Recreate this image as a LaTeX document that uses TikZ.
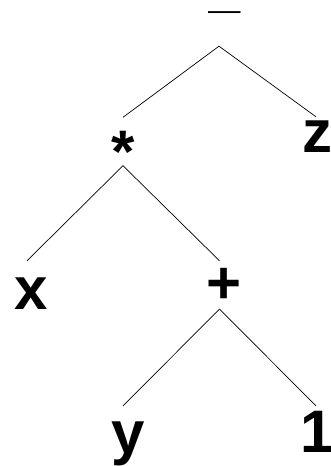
\documentclass[tikz,border=0pt]{standalone}
\usepackage{fontspec}
\newfontfamily\lab{Liberation Sans}
\tikzset{
  tn/.style={inner sep=0pt, text height=0pt, text depth=0pt, minimum height=48pt,
    font=\lab\bfseries\fontsize{60}{60}\selectfont},
  edge/.style={line width=0.7pt}
}
\begin{document}
\begin{tikzpicture}[x=1pt,y=1pt]
\useasboundingbox (0,0) rectangle (330,466);
\node[tn] (root) at (219,444) {\raisebox{-6.9pt}{\kern12pt\normalfont\bfseries\fontsize{58}{58}\selectfont\textendash}};
\node[tn] (mul) at (123,324.5) {\raisebox{-31.5pt}{*}};
\node[tn] (z) at (316,325) {\raisebox{-12pt}{\kern2pt z}};
\node[tn] (x) at (27,181) {\raisebox{-25pt}{\kern8pt x}};
\node[tn] (plus) at (219.5,181) {\raisebox{-19pt}{\kern10pt +}};
\node[tn] (y) at (123,36) {\raisebox{-24pt}{\kern10pt y}};
\node[tn] (one) at (316,36) {\raisebox{-23pt}{\kern2pt 1}};
\draw[edge] (root.south) -- (mul.north);
\draw[edge] (root.south) -- (z.north);
\draw[edge] (mul.south) -- (x.north);
\draw[edge] (mul.south) -- (plus.north);
\draw[edge] (plus.south) -- (y.north);
\draw[edge] (plus.south) -- (one.north);
\end{tikzpicture}
\end{document}
